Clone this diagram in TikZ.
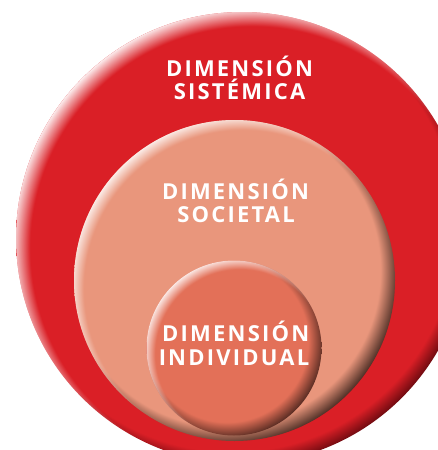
\documentclass[tikz,border=0pt]{standalone}
\usepackage{fontspec}
\setmainfont{Open Sans}
\usetikzlibrary{fadings,calc}
\definecolor{redbase}{RGB}{218,31,38}
\definecolor{redshade}{RGB}{110,10,16}
\definecolor{midbase}{RGB}{233,150,124}
\definecolor{midshade}{RGB}{75,45,36}
\definecolor{inbase}{RGB}{227,112,88}
\definecolor{inshade}{RGB}{85,42,33}
% shadow shadings (bottom-right rim); 25bp = edge of the shaded path
\pgfdeclareradialshading{outershade}{\pgfpointorigin}{color(0bp)=(redbase); color(23.3bp)=(redbase); color(25bp)=(redshade); color(50bp)=(redshade)}
\pgfdeclareradialshading{midshading}{\pgfpointorigin}{color(0bp)=(midbase); color(22.3bp)=(midbase); color(25bp)=(midshade); color(50bp)=(midshade)}
\pgfdeclareradialshading{inshading}{\pgfpointorigin}{color(0bp)=(inbase); color(20.8bp)=(inbase); color(25bp)=(inshade); color(50bp)=(inshade)}
% highlight masks (top-left rim)
\pgfdeclareradialshading{outermask}{\pgfpointorigin}{color(0bp)=(black); color(23bp)=(black); color(25bp)=(white!95!black); color(50bp)=(white!95!black)}
\pgfdeclarefading{outerrim}{\pgfuseshading{outermask}}
\pgfdeclareradialshading{midmask}{\pgfpointorigin}{color(0bp)=(black); color(23bp)=(black); color(25bp)=(white!85!black); color(50bp)=(white!85!black)}
\pgfdeclarefading{midrim}{\pgfuseshading{midmask}}
\pgfdeclareradialshading{inmask}{\pgfpointorigin}{color(0bp)=(black); color(22bp)=(black); color(25bp)=(white!85!black); color(50bp)=(white!85!black)}
\pgfdeclarefading{inrim}{\pgfuseshading{inmask}}
\tikzset{
  label/.style={text=white, anchor=base, inner sep=0pt,
    font=\fontsize{22}{23}\selectfont\bfseries\addfontfeatures{LetterSpace=10}}
}
\begin{document}
\begin{tikzpicture}[x=1pt,y=-1pt]
\useasboundingbox (0,0) rectangle (438,450);
\clip (0,0) rectangle (438,450);
\coordinate (co) at (242,238);
\coordinate (cm) at (234.5,280.5);
\coordinate (ci) at (234,348);
% outer circle
\begin{scope}
  \clip (co) circle (226);
  \shade[shading=outershade] ($(co)+(-10,-10)$) circle (240.2);
  \fill[white, path fading=outerrim] ($(co)+(10,10)$) circle (240.2);
\end{scope}
% middle circle
\begin{scope}
  \clip (cm) circle (160.5);
  \shade[shading=midshading] ($(cm)+(-10,-10)$) circle (174.6);
  \fill[white, path fading=midrim] ($(cm)+(8,8)$) circle (171.8);
\end{scope}
% inner circle
\begin{scope}
  \clip (ci) circle (87.5);
  \shade[shading=inshading] ($(ci)+(-7,-7)$) circle (97.4);
  \fill[white, path fading=inrim] ($(ci)+(6,6)$) circle (96);
\end{scope}
\node[label] (sisA) at (239.5,76.7) {DIMENSIÓN};
\node[label] (sisB) at (239.5,99.3) {SISTÉMICA};
\node[label] (socA) at (235.5,199.3) {DIMENSIÓN};
\node[label] (socB) at (236,222.7) {SOCIETAL};
\node[label] (indA) at (235.7,341.7) {DIMENSIÓN};
\node[label] (indB) at (234,365) {INDIVIDUAL};
\end{tikzpicture}
\end{document}
